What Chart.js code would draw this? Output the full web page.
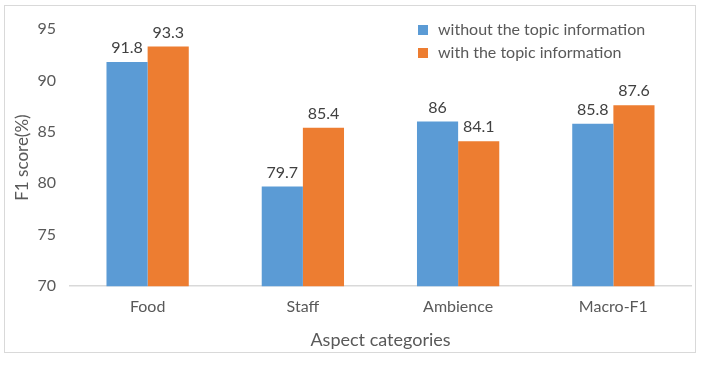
<!DOCTYPE html>
<html>
<head>
<meta charset="utf-8">
<script src="https://cdn.jsdelivr.net/npm/chart.js@4"></script>
<style>
  html, body { margin: 0; padding: 0; background: #fff; }
  #wrap { position: relative; width: 704px; height: 368px; }
  #frame { position: absolute; left: 4px; top: 5px; width: 692px; height: 348px; border: 1px solid #d9d9d9; box-sizing: border-box; }
  canvas { position: absolute; left: 0; top: 0; }
</style>
</head>
<body>
<div id="wrap">
  <div id="frame"></div>
  <canvas id="chart" width="704" height="368"></canvas>
</div>
<script>
const categories = ['Food', 'Staff', 'Ambience', 'Macro-F1'];
const withoutTopic = [91.8, 79.7, 86, 85.8];
const withTopic = [93.3, 85.4, 84.1, 87.6];
const yTicks = [70, 75, 80, 85, 90, 95];

const FONT = 'Lato, "Open Sans", sans-serif';

// value labels above each bar
const barLabels = {
    id: 'barLabels',
    afterDatasetsDraw(chart) {
        const ctx = chart.ctx;
        ctx.save();
        ctx.font = '16px ' + FONT;
        ctx.fillStyle = '#404040';
        ctx.textAlign = 'center';
        ctx.textBaseline = 'bottom';
        chart.data.datasets.forEach((ds, i) => {
            chart.getDatasetMeta(i).data.forEach((bar, j) => {
                ctx.fillText(String(ds.data[j]), bar.x, bar.y - 6);
            });
        });
        ctx.restore();
    }
};

// legend stacked in the upper right, inside the plot
const sideLegend = {
    id: 'sideLegend',
    afterDraw(chart) {
        const ctx = chart.ctx;
        ctx.save();
        ctx.font = '16px ' + FONT;
        ctx.textBaseline = 'middle';
        chart.data.datasets.forEach((ds, i) => {
            const y = 30 + i * 23;
            ctx.fillStyle = ds.backgroundColor;
            ctx.fillRect(418, y - 5, 10, 10);
            ctx.fillStyle = '#595959';
            ctx.fillText(ds.label, 438, y);
        });
        ctx.restore();
    }
};

new Chart(document.getElementById('chart'), {
    type: 'bar',
    data: {
        labels: categories,
        datasets: [
            { label: 'without the topic information', data: withoutTopic, backgroundColor: '#5B9BD5' },
            { label: 'with the topic information', data: withTopic, backgroundColor: '#ED7D31' }
        ]
    },
    options: {
        responsive: false,
        animation: false,
        categoryPercentage: 0.53,
        barPercentage: 1,
        layout: { padding: { left: 0, right: 13, top: 29, bottom: 17 } },
        plugins: {
            legend: { display: false },
            tooltip: { enabled: false }
        },
        scales: {
            x: {
                grid: { display: false, drawTicks: false },
                border: { display: true, color: '#d9d9d9', width: 1.5 },
                ticks: { color: '#595959', font: { family: FONT, size: 16 }, padding: 11 },
                title: { display: true, text: 'Aspect categories', color: '#595959', font: { family: FONT, size: 18 }, padding: { top: 2, bottom: 0 } }
            },
            y: {
                min: 70,
                max: 95,
                afterBuildTicks(scale) {
                    scale.ticks = yTicks.map(v => ({ value: v }));
                },
                afterFit(scale) { scale.width = 70; },
                grid: { display: false, drawTicks: false },
                border: { display: false },
                ticks: { color: '#595959', font: { family: FONT, size: 16 }, padding: 14 },
                title: { display: true, text: 'F1 score(%)', color: '#595959', font: { family: FONT, size: 17 }, padding: { top: 12, bottom: 0 } }
            }
        }
    },
    plugins: [barLabels, sideLegend]
});
</script>
</body>
</html>
